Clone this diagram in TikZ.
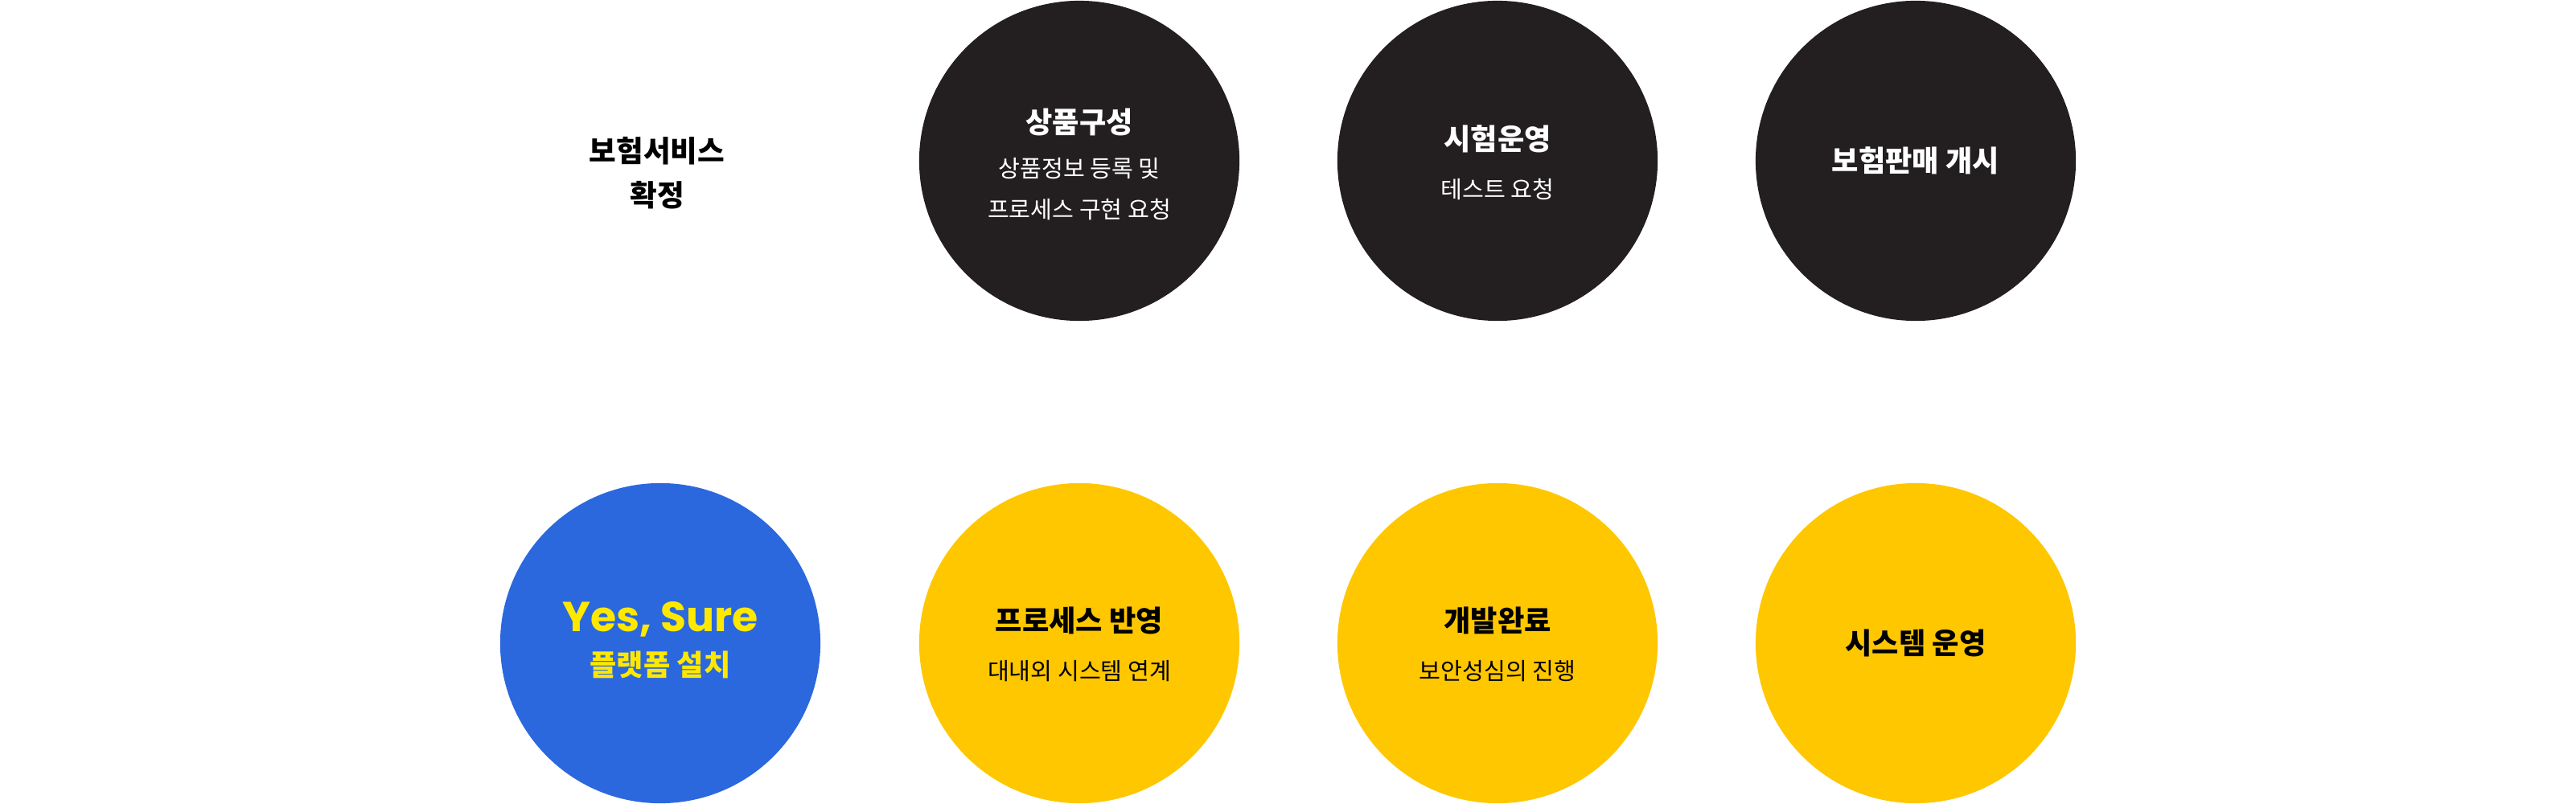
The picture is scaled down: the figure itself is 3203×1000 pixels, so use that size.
\documentclass[tikz,border=0pt]{standalone}
\usepackage{fontspec}
\setmainfont{Noto Sans CJK KR}
\newfontfamily\latinbold{Poppins}[UprightFont=* Bold]
\usetikzlibrary{calc}
\usetikzlibrary{positioning}

\definecolor{darkdot}{HTML}{231F20}
\definecolor{bluedot}{HTML}{2B68DE}
\definecolor{yellowdot}{HTML}{FFC700}
\definecolor{yellowtext}{HTML}{FFE800}

\tikzset{
    dot/.style={circle, minimum size=3.98cm, inner sep=0pt},
    head/.style={inner sep=0pt, font=\fontsize{10.3}{12}\selectfont\bfseries, align=center},
    sub/.style={inner sep=0pt, font=\fontsize{8.3}{9}\selectfont},
}

\begin{document}
\begin{tikzpicture}[x=0.01cm, y=-0.01cm]
        \useasboundingbox (0,0) rectangle (3203,1000);

        % top row
        \node[head, font=\fontsize{10.4}{15.6}\selectfont\bfseries] (start) at (817,215) {보험서비스\\확정};

        \node[dot, fill=darkdot] (product) at (1342,200) {};
        \node[head, text=white] (product title) at ($(product)+(0,-48)$) {상품구성};
        \node[sub, text=white] (product sub1) at ($(product)+(0,10)$) {상품정보 등록 및};
        \node[sub, text=white] (product sub2) at ($(product)+(0,61)$) {프로세스 구현 요청};

        \node[dot, fill=darkdot] (trial) at (1862,200) {};
        \node[head, text=white] (trial title) at ($(trial)+(0,-27)$) {시험운영};
        \node[sub, text=white] (trial sub) at ($(trial)+(0,36)$) {테스트 요청};

        \node[dot, fill=darkdot] (launch) at (2382,200) {};
        \node[head, text=white] (launch title) at (launch) {보험판매 개시};

        % bottom row
        \node[dot, fill=bluedot] (platform) at (821,800) {};
        \node[inner sep=0pt, text=yellowtext, font=\fontsize{14.8}{16}\latinbold] (platform name) at ($(platform)+(0,-30)$) {Yes, Sure};
        \node[head, text=yellowtext] (platform title) at ($(platform)+(0,27)$) {플랫폼 설치};

        \node[dot, fill=yellowdot] (process) at (1342,800) {};
        \node[head] (process title) at ($(process)+(0,-28)$) {프로세스 반영};
        \node[sub] (process sub) at ($(process)+(0,35)$) {대내외 시스템 연계};

        \node[dot, fill=yellowdot] (devdone) at (1862,800) {};
        \node[head] (devdone title) at ($(devdone)+(0,-28)$) {개발완료};
        \node[sub] (devdone sub) at ($(devdone)+(0,35)$) {보안성심의 진행};

        \node[dot, fill=yellowdot] (operate) at (2382,800) {};
        \node[head] (operate title) at (operate) {시스템 운영};
    \end{tikzpicture}
\end{document}
